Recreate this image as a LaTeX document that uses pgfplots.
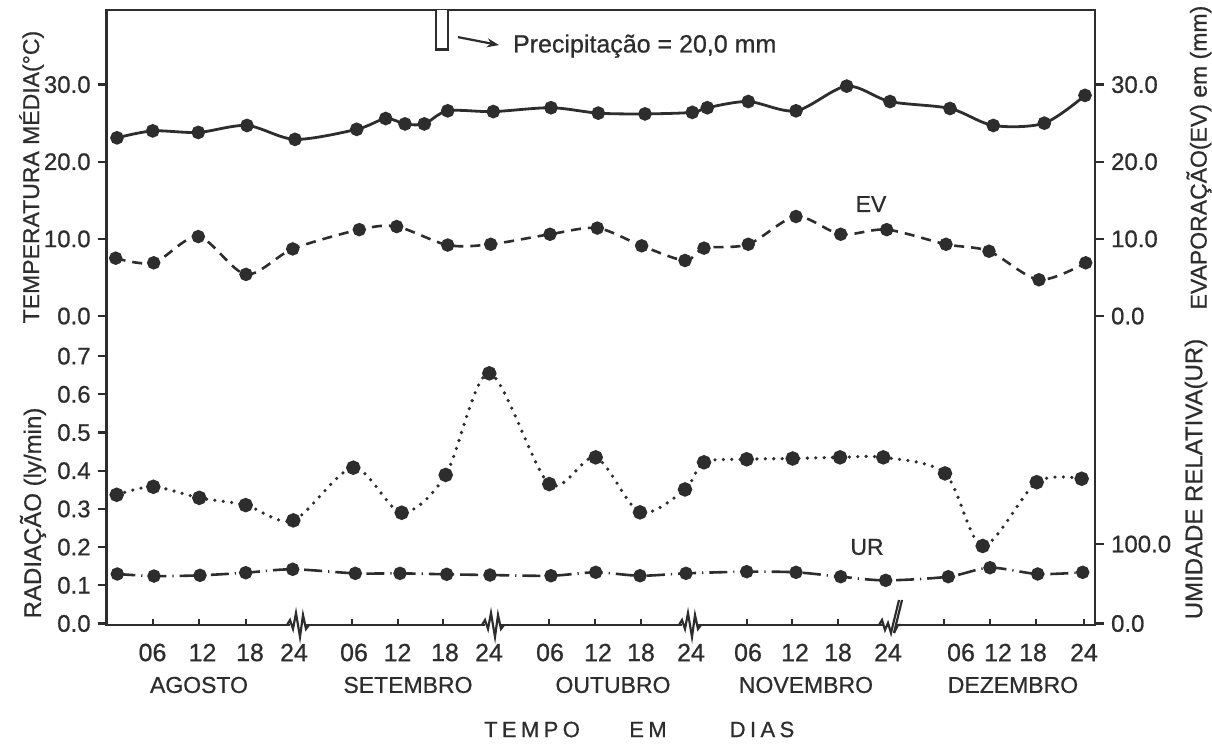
\documentclass[border=0pt]{standalone}
\usepackage{fontspec}
\setmainfont{Liberation Sans}[FakeBold=0.7]
\usepackage{pgfplots}
\usepackage{pgfplotstable}
\pgfplotsset{compat=1.18}
\usetikzlibrary{arrows.meta,calc}
\definecolor{ink}{RGB}{45,45,45}

% x = position along the time axis (chart units), values in physical units
\pgfplotstableread{
x T
117 23.1
152.7 24.0
198.3 23.8
247 24.7
295 22.9
356.7 24.2
385.7 25.6
405 24.9
424.3 24.9
447.7 26.6
493.3 26.5
551 27.0
598.3 26.3
645 26.2
692.3 26.4
707.3 27.0
748.3 27.8
796 26.6
846.7 29.8
890 27.8
950 26.9
993.3 24.7
1044.3 25.0
1085 28.6
}\temp

\pgfplotstableread{
x EV
115.7 7.5
153.7 6.9
198.3 10.3
246 5.4
292.7 8.7
359.3 11.2
396.7 11.6
447.7 9.2
490.7 9.3
550 10.6
597.3 11.4
641.7 9.1
685 7.2
704 8.8
748.3 9.3
796 12.9
840.7 10.6
886.7 11.2
946 9.3
989 8.4
1039 4.7
1085.7 6.9
}\evap

\pgfplotstableread{
x R
116.7 0.337
153.3 0.358
199.3 0.329
245.7 0.310
293.3 0.270
353.3 0.408
401.7 0.290
445.7 0.389
489.3 0.655
549.3 0.365
595.7 0.435
640 0.291
685 0.351
704 0.422
746.7 0.430
792.7 0.432
840 0.435
883.3 0.435
945 0.393
982.7 0.203
1036.7 0.370
1081.7 0.379
}\rad

\pgfplotstableread{
x UR
117.3 62.3
154 59.7
200 60.6
245.7 63.9
292.7 68.2
355.3 63.1
400 63.1
446.7 61.9
490 61.0
551 60.1
595.7 64.4
640 60.1
686 63.1
746.7 65.2
796 64.4
840.7 58.9
885.7 54.3
948.3 58.9
990 70.2
1037.7 62.3
1082.7 64.4
}\umid

\begin{document}
\begin{tikzpicture}
\pgfplotsset{
  base/.style={
    scale only axis, width=494.15pt, height=307.5pt,
    xmin=106.7, xmax=1095, ymin=-0.0039, ymax=1.6063,
    clip=false,
    axis line style={ink, line width=1.4pt},
    tick style={ink, line width=1.1pt},
    ticklabel style={font=\fontsize{12}{12}\selectfont, text=ink},
  },
}
\begin{axis}[base,
  xtick={153.3,199.3,246,352.3,397.7,443.3,549,595,641,746.7,792.3,838.3,944,990,1035.7,1084},
  xticklabels={}, xtick pos=bottom, tick align=inside, major tick length=3pt,
  ytick=\empty]

% precipitation bar (20,0 mm)
\addplot[draw=ink, fill=white, line width=1.1pt] coordinates {(436,1.6063) (436,1.5031) (447.7,1.5031) (447.7,1.6063)};

% temperature
\addplot[ink, line width=1.4pt, smooth, mark=*, mark size=2.7pt, mark options={fill=ink}]
  table[x=x, y expr=0.805+0.0202*\thisrow{T}] {\temp};
% evaporation
\addplot[ink, line width=1.3pt, smooth, dash pattern=on 5pt off 3.5pt, mark=*, mark size=2.7pt, mark options={solid, fill=ink}]
  table[x=x, y expr=0.805+0.0202*\thisrow{EV}] {\evap};
% radiation
\addplot[ink, line width=1.8pt, smooth, line cap=round, dash pattern=on 0pt off 4.2pt, mark=*, mark size=2.7pt, mark options={solid, fill=ink}]
  table[x=x, y=R] {\rad};
% relative humidity
\addplot[ink, line width=1.3pt, smooth, dash pattern=on 9pt off 3pt on 0.6pt off 3pt, mark=*, mark size=2.7pt, mark options={solid, fill=ink}]
  table[x=x, y expr=0.002081*\thisrow{UR}] {\umid};

\draw[ink, line width=1.1pt, -{Stealth[length=6pt,width=4.5pt]}] (axis cs:458,1.5353) -- (axis cs:499,1.5144);
\node[anchor=west, text=ink, font=\fontsize{12.5}{12.5}\selectfont] at (axis cs:506,1.5118) {Precipitação = 20,0 mm};

\node[text=ink, font=\fontsize{11.5}{11.5}\selectfont] at (axis cs:871,1.0982) {EV};
\node[text=ink, font=\fontsize{11.5}{11.5}\selectfont] at (axis cs:867,0.2003) {UR};

% axis titles
\node[rotate=90, text=ink, font=\fontsize{11.5}{11.5}\selectfont] at (axis cs:31.5,1.1689) {TEMPERATURA MÉDIA(°C)};
\node[rotate=90, text=ink, font=\fontsize{12}{12}\selectfont] at (axis cs:33,0.2893) {RADIAÇÃO (ly/min)};
\node[rotate=90, text=ink, font=\fontsize{11.5}{11.5}\selectfont] at (axis cs:1199,1.2199) {EVAPORAÇÃO(EV) em (mm)};
\node[rotate=90, text=ink, font=\fontsize{12}{12}\selectfont] at (axis cs:1196,0.3783) {UMIDADE RELATIVA(UR)};

% day labels
\foreach \px/\lab in {152.5/06,202.5/12,250/18,294/24,354/06,397.5/12,445/18,489/24,550/06,598/12,641/18,691/24,748/06,795/12,838/18,888/24,961/06,998/12,1033/18,1084/24}{
  \edef\tmp{\noexpand\node[text=ink, font=\noexpand\fontsize{12.5}{12.5}\noexpand\selectfont, yshift=-13.75pt] at (axis cs:\px,-0.0039) {\lab};}
  \tmp
}
% months
\foreach \px/\lab in {199/AGOSTO,408/SETEMBRO,613/OUTUBRO,806/NOVEMBRO,1013/DEZEMBRO}{
  \edef\tmp{\noexpand\node[text=ink, font=\noexpand\fontsize{11.5}{11.5}\noexpand\selectfont, yshift=-30pt] at (axis cs:\px,-0.0039) {\lab};}
  \tmp
}
\node[text=ink, font=\fontsize{11}{11}\selectfont, yshift=-52.25pt] at (axis cs:532,-0.0039) {T\hspace{2.2pt}E\hspace{2.2pt}M\hspace{2.2pt}P\hspace{2.2pt}O};
\node[text=ink, font=\fontsize{11}{11}\selectfont, yshift=-52.25pt] at (axis cs:648,-0.0039) {E\hspace{2.2pt}M};
\node[text=ink, font=\fontsize{11}{11}\selectfont, yshift=-52.25pt] at (axis cs:762,-0.0039) {D\hspace{2.2pt}I\hspace{2.2pt}A\hspace{2.2pt}S};

\coordinate (b1) at (axis cs:298,-0.0039);
\coordinate (b2) at (axis cs:493,-0.0039);
\coordinate (b3) at (axis cs:690,-0.0039);
\coordinate (b4) at (axis cs:891,-0.0039);
\end{axis}

\begin{axis}[base, hide x axis, axis y line*=left,
  ytick={0,0.1,0.2,0.3,0.4,0.5,0.6,0.7,0.805,1.007,1.209,1.411},
  yticklabels={0.0,0.1,0.2,0.3,0.4,0.5,0.6,0.7,0.0,10.0,20.0,30.0},
  tick align=outside, major tick length=4.5pt]
\end{axis}

\begin{axis}[base, hide x axis, axis y line*=right,
  ytick={0,0.208,0.805,1.007,1.209,1.411},
  yticklabels={0.0,100.0,0.0,10.0,20.0,30.0},
  tick align=outside, major tick length=4.5pt]
\end{axis}

% axis breaks
\foreach \b in {b1,b2,b3}{
\begin{scope}[shift={(\b)}, x=0.5pt, y=-0.5pt]
  \fill[white] (-8,-2.5) rectangle (8,2.5);
  \draw[ink, line width=1.1pt, line join=miter] (-11,0) -- (-8,-5) -- (-5,4) -- (-2,-12) -- (2,12) -- (5,-10) -- (8,4) -- (11,0);
\end{scope}
}
\begin{scope}[shift={(b4)}, x=0.5pt, y=-0.5pt]
  \fill[white] (-8,-2.5) rectangle (8,2.5);
  \draw[ink, line width=1.1pt, line join=miter] (-12,0) -- (-9,-5) -- (-6,5) -- (-3,-2) -- (0,8) -- (8,-25);
  \draw[ink, line width=1.1pt, line join=miter] (3,8) -- (11,-25);
  \draw[ink, line width=1.1pt] (3,8) -- (7,0) -- (10,0);
\end{scope}

\pgfresetboundingbox
\path[use as bounding box] ($(current axis.south west)+(-53.35pt,-59.5pt)$) rectangle ($(current axis.north east)+(58.5pt,5pt)$);
\end{tikzpicture}
\end{document}
